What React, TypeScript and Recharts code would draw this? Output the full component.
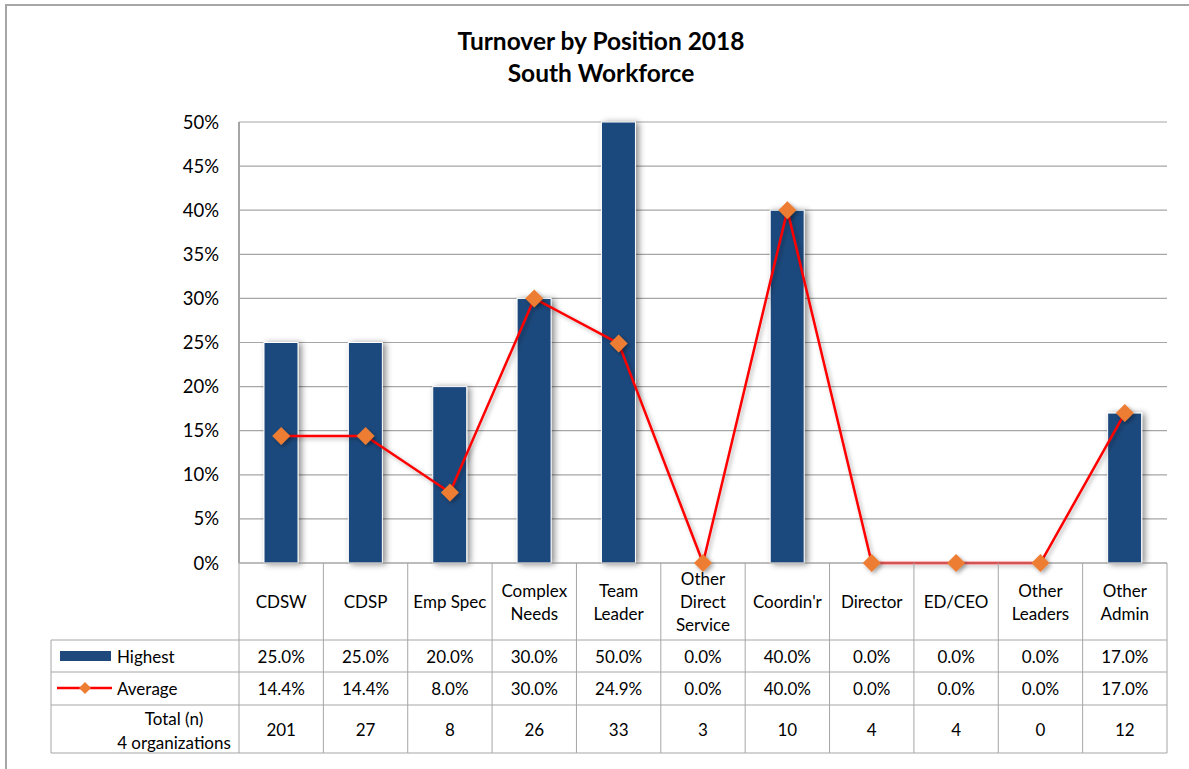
import { ComposedChart, Bar, Line, XAxis, YAxis, CartesianGrid } from "recharts";

const categories = [
  "CDSW",
  "CDSP",
  "Emp Spec",
  "Complex\nNeeds",
  "Team\nLeader",
  "Other\nDirect\nService",
  "Coordin'r",
  "Director",
  "ED/CEO",
  "Other\nLeaders",
  "Other\nAdmin",
];
const highest = [25, 25, 20, 30, 50, 0, 40, 0, 0, 0, 17];
const average = [14.4, 14.4, 8.0, 30, 24.9, 0, 40, 0, 0, 0, 17];
const totals = [201, 27, 8, 26, 33, 3, 10, 4, 4, 0, 12];
const yTicks = [0, 5, 10, 15, 20, 25, 30, 35, 40, 45, 50];

const data = categories.map((name, i) => ({
  name,
  highest: highest[i],
  average: average[i],
  total: totals[i],
}));

const W = 1189;
const H = 769;
const PLOT_LEFT = 239;
const PLOT_RIGHT = 1167;
const PLOT_TOP = 122;
const PLOT_BOTTOM = 563;
const COL_W = (PLOT_RIGHT - PLOT_LEFT) / categories.length;
const ROW_HIGHEST = 640;
const ROW_AVERAGE = 672;
const ROW_TOTAL = 705;
const TABLE_END = 753;
const TABLE_LEFT = 51;

const GRID = "#a6a6a6";
const BLUE = "#1f497d";
const RED = "#ff0000";
const ORANGE = "#ed7d31";
const FONT = "Lato, 'Open Sans', sans-serif";
const TXT = 17;

function Diamond({ cx, cy, r }: { cx: number; cy: number; r: number }) {
  return (
    <polygon
      points={`${cx},${cy - r} ${cx + r},${cy} ${cx},${cy + r} ${cx - r},${cy}`}
      fill={ORANGE}
      filter="url(#dotShadow)"
    />
  );
}

function ShadowBar(props: any) {
  const { x, y, width, height, fill } = props;
  if (!height || height <= 0) return null;
  return (
    <rect
      x={x}
      y={y}
      width={width}
      height={height}
      fill={fill}
      stroke="#ffffff"
      strokeWidth={1}
      filter="url(#barShadow)"
    />
  );
}

function AvgDot(props: any) {
  const { cx, cy } = props;
  if (cx == null || cy == null) return null;
  return <Diamond cx={cx} cy={cy} r={9} />;
}

// each x tick draws one column of the data table under the plot
function TableColumn(props: any) {
  const { x, payload, index } = props;
  const i = index ?? payload.index;
  const left = x - COL_W / 2;
  const right = x + COL_W / 2;
  const lines = String(payload.value).split("\n");
  const labelMid = (PLOT_BOTTOM + ROW_HIGHEST) / 2;
  const textProps = {
    fontFamily: FONT,
    fontSize: TXT,
    fill: "#000",
    dominantBaseline: "central" as const,
  };
  return (
    <g>
      {i === 0 && (
        <g>
          <line x1={left} y1={PLOT_BOTTOM} x2={left} y2={TABLE_END} stroke={GRID} />
          <line x1={TABLE_LEFT} y1={ROW_HIGHEST} x2={TABLE_LEFT} y2={TABLE_END} stroke={GRID} />
          <line x1={TABLE_LEFT} y1={ROW_HIGHEST} x2={left} y2={ROW_HIGHEST} stroke={GRID} />
          <line x1={TABLE_LEFT} y1={ROW_AVERAGE} x2={left} y2={ROW_AVERAGE} stroke={GRID} />
          <line x1={TABLE_LEFT} y1={ROW_TOTAL} x2={left} y2={ROW_TOTAL} stroke={GRID} />
          <line x1={TABLE_LEFT} y1={TABLE_END} x2={left} y2={TABLE_END} stroke={GRID} />
          <rect x={60} y={651} width={51} height={10} fill={BLUE} />
          <text x={117} y={(ROW_HIGHEST + ROW_AVERAGE) / 2} {...textProps}>
            Highest
          </text>
          <line x1={57} y1={688} x2={112} y2={688} stroke={RED} strokeWidth={2.5} />
          <polygon points="85,682 91,688 85,694 79,688" fill={ORANGE} />
          <text x={117} y={(ROW_AVERAGE + ROW_TOTAL) / 2} {...textProps}>
            Average
          </text>
          <text x={174} y={718} textAnchor="middle" {...textProps}>
            Total (n)
          </text>
          <text x={174} y={742} textAnchor="middle" {...textProps}>
            4 organizations
          </text>
        </g>
      )}
      <line x1={right} y1={PLOT_BOTTOM} x2={right} y2={TABLE_END} stroke={GRID} />
      <line x1={left} y1={ROW_HIGHEST} x2={right} y2={ROW_HIGHEST} stroke={GRID} />
      <line x1={left} y1={ROW_AVERAGE} x2={right} y2={ROW_AVERAGE} stroke={GRID} />
      <line x1={left} y1={ROW_TOTAL} x2={right} y2={ROW_TOTAL} stroke={GRID} />
      <line x1={left} y1={TABLE_END} x2={right} y2={TABLE_END} stroke={GRID} />
      {lines.map((ln, k) => (
        <text
          key={k}
          x={x}
          y={labelMid + (k - (lines.length - 1) / 2) * 23}
          textAnchor="middle"
          {...textProps}
        >
          {ln}
        </text>
      ))}
      <text x={x} y={(ROW_HIGHEST + ROW_AVERAGE) / 2} textAnchor="middle" {...textProps}>
        {highest[i].toFixed(1)}%
      </text>
      <text x={x} y={(ROW_AVERAGE + ROW_TOTAL) / 2} textAnchor="middle" {...textProps}>
        {average[i].toFixed(1)}%
      </text>
      <text x={x} y={(ROW_TOTAL + TABLE_END) / 2} textAnchor="middle" {...textProps}>
        {totals[i]}
      </text>
    </g>
  );
}

export default function App() {
  return (
    <div
      style={{
        position: "absolute",
        left: 0,
        top: 0,
        width: W,
        height: H,
        overflow: "hidden",
        background: "#fff",
      }}
    >
      <div
        style={{
          position: "absolute",
          left: 5,
          top: 4,
          width: W + 50,
          height: H + 50,
          border: "2px solid #a6a6a6",
        }}
      />
      <div
        style={{
          position: "absolute",
          left: 351,
          top: 25,
          width: 500,
          textAlign: "center",
          fontFamily: FONT,
          fontWeight: 700,
          fontSize: 24.5,
          lineHeight: "32px",
          color: "#000",
        }}
      >
        Turnover by Position 2018
        <br />
        South Workforce
      </div>
      <div style={{ position: "absolute", left: 0, top: 0 }}>
        <ComposedChart
          width={W}
          height={H}
          data={data}
          margin={{ top: PLOT_TOP, right: W - PLOT_RIGHT, bottom: 0, left: PLOT_LEFT - 60 }}
        >
          <defs>
            <filter id="barShadow" x="-50%" y="-10%" width="200%" height="130%">
              <feDropShadow dx="3" dy="1" stdDeviation="3" floodColor="#000" floodOpacity="0.45" />
            </filter>
            <filter id="dotShadow" x="-50%" y="-50%" width="200%" height="200%">
              <feDropShadow dx="2" dy="2" stdDeviation="2" floodColor="#000" floodOpacity="0.35" />
            </filter>
            <filter id="lineShadow" x="-10%" y="-10%" width="120%" height="120%">
              <feDropShadow dx="2" dy="2" stdDeviation="2" floodColor="#000" floodOpacity="0.3" />
            </filter>
          </defs>
          <CartesianGrid vertical={false} stroke={GRID} strokeWidth={1.2} />
          <XAxis
            dataKey="name"
            interval={0}
            height={H - PLOT_BOTTOM}
            tickLine={false}
            axisLine={{ stroke: GRID, strokeWidth: 1.2 }}
            tick={<TableColumn />}
          />
          <YAxis
            width={60}
            domain={[0, 50]}
            ticks={yTicks}
            tickFormatter={(v) => `${v}%`}
            tickLine={false}
            tickSize={6}
            tickMargin={14}
            axisLine={{ stroke: GRID, strokeWidth: 2 }}
            tick={{ fill: "#000", fontSize: 18.5, fontFamily: FONT }}
          />
          <Bar
            dataKey="highest"
            fill={BLUE}
            barSize={34}
            shape={<ShadowBar />}
            isAnimationActive={false}
          />
          <Line
            type="linear"
            dataKey="average"
            stroke={RED}
            strokeWidth={2.5}
            filter="url(#lineShadow)"
            dot={<AvgDot />}
            activeDot={false}
            isAnimationActive={false}
          />
        </ComposedChart>
      </div>
    </div>
  );
}
